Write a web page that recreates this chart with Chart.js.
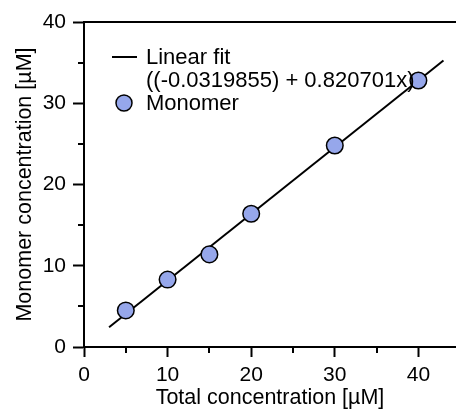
<!DOCTYPE html>
<html>
<head>
<meta charset="utf-8">
<script src="https://cdn.jsdelivr.net/npm/chart.js@4.4.1/dist/chart.umd.min.js"></script>
<style>
  html, body { margin: 0; padding: 0; background: #fff; }
  #wrap { width: 456px; height: 410px; }
</style>
</head>
<body>
<div id="wrap"><canvas id="chart"></canvas></div>
<script>
const totalConc = [5, 10, 15, 20, 30, 40];
const monomerConc = [4.5, 8.3, 11.4, 16.4, 24.8, 32.8];
const fitX = [3, 43];
const fitY = [2.43, 35.26];
const xTicks = [0, 10, 20, 30, 40];
const yTicks = [0, 10, 20, 30, 40];
const minorTicks = [5, 15, 25, 35];
const fitLabel = ['Linear fit', '((-0.0319855) + 0.820701x)'];
const pointLabel = 'Monomer';

const FONT = '"Liberation Sans", Arial, Helvetica, sans-serif';
const pointFill = '#96a7eb';

// minor ticks, top frame line and the legend inside the plot
const extras = {
  id: 'extras',
  afterDraw(chart) {
    const ctx = chart.ctx;
    const area = chart.chartArea;
    const xs = chart.scales.x, ys = chart.scales.y;
    ctx.save();
    ctx.strokeStyle = '#000';
    ctx.lineWidth = 2;
    ctx.beginPath();
    ctx.moveTo(area.left - 1, area.top);
    ctx.lineTo(chart.width, area.top);
    minorTicks.forEach(v => {
      const py = Math.round(ys.getPixelForValue(v));
      ctx.moveTo(area.left - 6, py);
      ctx.lineTo(area.left, py);
      const px = Math.round(xs.getPixelForValue(v));
      ctx.moveTo(px, area.bottom);
      ctx.lineTo(px, area.bottom + 6);
    });
    ctx.stroke();

    // legend
    ctx.font = '22px ' + FONT;
    ctx.fillStyle = '#000';
    ctx.textBaseline = 'middle';
    ctx.textAlign = 'left';
    ctx.beginPath();
    ctx.moveTo(112, 57);
    ctx.lineTo(137, 57);
    ctx.stroke();
    ctx.fillText(fitLabel[0], 146, 58);
    ctx.fillText(fitLabel[1], 146, 81);
    ctx.beginPath();
    ctx.arc(124, 103, 8, 0, Math.PI * 2);
    ctx.fillStyle = pointFill;
    ctx.fill();
    ctx.lineWidth = 1.5;
    ctx.stroke();
    ctx.fillStyle = '#000';
    ctx.fillText(pointLabel, 146, 104);
    ctx.restore();
  }
};

new Chart(document.getElementById('chart'), {
  type: 'scatter',
  data: {
    datasets: [
      {
        label: pointLabel,
        data: totalConc.map((x, i) => ({ x: x, y: monomerConc[i] })),
        pointRadius: 8.3,
        pointHoverRadius: 8.3,
        pointBackgroundColor: pointFill,
        pointBorderColor: '#000',
        pointBorderWidth: 1.5,
        showLine: false,
        order: 0
      },
      {
        label: fitLabel.join(' '),
        type: 'line',
        data: fitX.map((x, i) => ({ x: x, y: fitY[i] })),
        borderColor: '#000',
        borderWidth: 2,
        pointRadius: 0,
        fill: false,
        order: 1
      }
    ]
  },
  options: {
    responsive: true,
    maintainAspectRatio: false,
    animation: false,
    devicePixelRatio: 1,
    layout: { autoPadding: false, padding: { top: 22, right: 0, left: 0, bottom: 0 } },
    plugins: {
      legend: { display: false },
      tooltip: { enabled: false }
    },
    scales: {
      x: {
        type: 'linear',
        min: 0,
        max: 44.5,
        afterBuildTicks: s => { s.ticks = xTicks.map(v => ({ value: v })); },
        afterFit: s => { s.height = 63; s.paddingRight = 0; s.paddingLeft = 0; },
        grid: { drawOnChartArea: false, tickLength: 10, tickWidth: 2, tickColor: '#000' },
        border: { display: true, color: '#000', width: 2 },
        ticks: { color: '#000', padding: 6, maxRotation: 0, font: { family: FONT, size: 21 } },
        title: {
          display: true,
          text: 'Total concentration [µM]',
          color: '#000',
          font: { family: FONT, size: 21.5 },
          padding: { top: 0, bottom: -1 }
        }
      },
      y: {
        type: 'linear',
        min: 0,
        max: 40,
        afterBuildTicks: s => { s.ticks = yTicks.map(v => ({ value: v })); },
        afterFit: s => { s.width = 84; },
        grid: { drawOnChartArea: false, tickLength: 11, tickWidth: 2, tickColor: '#000' },
        border: { display: true, color: '#000', width: 2 },
        ticks: { color: '#000', padding: 7, font: { family: FONT, size: 21 } },
        title: {
          display: true,
          text: 'Monomer concentration [µM]',
          color: '#000',
          font: { family: FONT, size: 21.5 },
          padding: { top: 12, bottom: 0 }
        }
      }
    }
  },
  plugins: [extras]
});
</script>
</body>
</html>
